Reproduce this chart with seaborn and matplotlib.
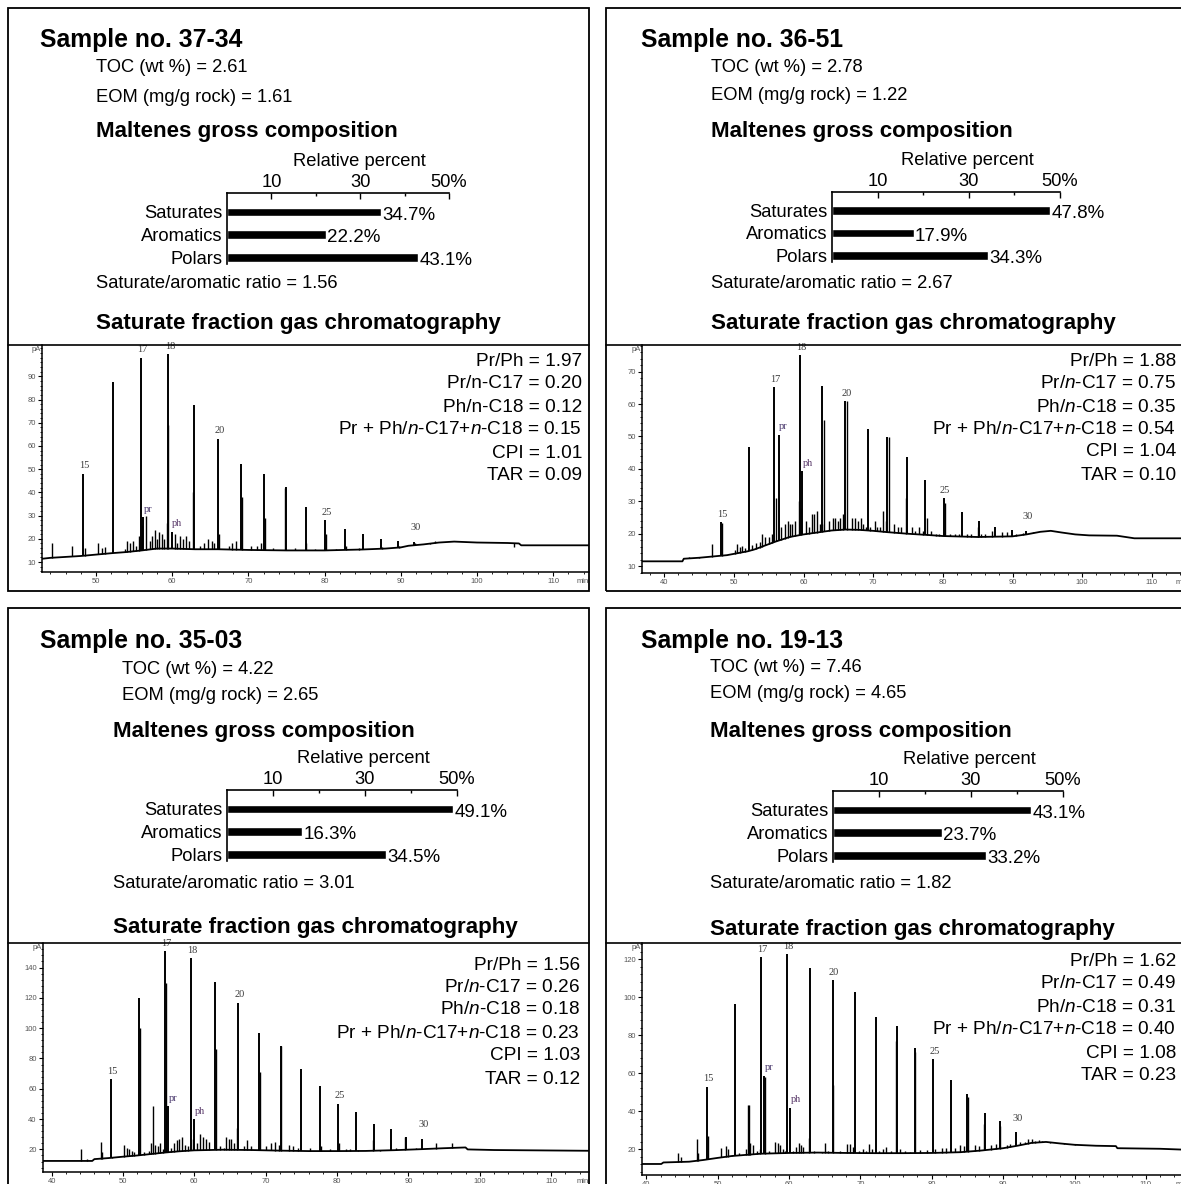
import numpy as np
import pandas as pd
import matplotlib
matplotlib.use("Agg")
import matplotlib.pyplot as plt
import seaborn as sns
from matplotlib.patches import Rectangle
from matplotlib.lines import Line2D
from matplotlib.ticker import MultipleLocator, FixedLocator, FixedFormatter

sns.set_theme(style="white", rc={
    "axes.edgecolor": "black", "text.color": "black",
    "xtick.color": "black", "ytick.color": "black", "axes.labelcolor": "black",
})
plt.rcParams["font.family"] = ["Liberation Sans", "DejaVu Sans"]
plt.rcParams["mathtext.fontset"] = "custom"
plt.rcParams["mathtext.rm"] = "Liberation Sans"
plt.rcParams["mathtext.it"] = "Liberation Sans:italic"

# ---------------------------------------------------------------- data
samples = ["37-34", "36-51", "35-03", "19-13"]
toc = [2.61, 2.78, 4.22, 7.46]
eom = [1.61, 1.22, 2.65, 4.65]

fractions = ["Saturates", "Aromatics", "Polars"]
saturates = [34.7, 47.8, 49.1, 43.1]
aromatics = [22.2, 17.9, 16.3, 23.7]
polars = [43.1, 34.3, 34.5, 33.2]
sat_aro_ratio = [1.56, 2.67, 3.01, 1.82]

pr_ph = [1.97, 1.88, 1.56, 1.62]
pr_c17 = [0.20, 0.75, 0.26, 0.49]
ph_c18 = [0.12, 0.35, 0.18, 0.31]
prph_c17c18 = [0.15, 0.54, 0.23, 0.40]
cpi = [1.01, 1.04, 1.03, 1.08]
tar = [0.09, 0.10, 0.12, 0.23]

# n-alkane peaks C15..C30: retention time (min) and height (pA)
carbon_numbers = list(range(15, 31))
alk_time_3734 = [48.3, 52.2, 55.9, 59.5, 62.9, 66.0, 69.0, 72.0, 74.9, 77.5, 80.1, 82.7, 85.0, 87.4, 89.6, 91.7]
alk_height_3734 = [48.1, 87.7, 98.0, 99.5, 77.6, 63.2, 52.4, 48.1, 42.4, 33.7, 28.0, 24.4, 22.2, 20.1, 18.9, 18.6]
alk_time_3651 = [48.1, 52.1, 55.8, 59.5, 62.7, 66.0, 69.2, 72.0, 74.9, 77.5, 80.1, 82.7, 85.2, 87.5, 89.9, 92.0]
alk_height_3651 = [23.6, 46.6, 65.1, 75.1, 65.6, 60.8, 52.4, 49.7, 43.8, 36.5, 31.0, 26.7, 23.8, 22.0, 21.1, 20.8]
alk_time_3503 = [48.3, 52.3, 55.9, 59.5, 62.9, 66.1, 69.1, 72.1, 74.9, 77.6, 80.2, 82.6, 85.2, 87.6, 89.6, 91.9]
alk_height_3503 = [66.2, 119.6, 150.7, 146.2, 130.7, 116.9, 96.7, 88.4, 73.3, 61.8, 50.2, 44.7, 36.7, 33.6, 28.4, 26.9]
alk_time_1913 = [48.5, 52.5, 56.1, 59.7, 63.0, 66.1, 69.3, 72.2, 75.1, 77.7, 80.2, 82.7, 85.0, 87.4, 89.5, 91.8]
alk_height_1913 = [52.9, 96.6, 120.9, 122.7, 115.6, 109.0, 102.8, 89.6, 84.8, 73.1, 67.4, 56.5, 48.8, 38.8, 34.7, 28.8]

# pristane / phytane peaks: time, height
pr_peak = [(56.2, 29.4), (56.4, 50.5), (56.3, 48.4), (56.5, 58.6)]
ph_peak = [(59.9, 23.0), (59.8, 39.2), (60.0, 40.0), (60.1, 41.8)]

# unresolved baseline / hump of each trace
base_t_3734 = [42.9, 44.0, 46.0, 48.0, 50.0, 52.0, 54.0, 56.0, 58.0, 60.0, 63.0, 66.0, 70.0, 75.0, 80.0, 85.0,
               88.0, 90.0, 91.0, 93.0, 95.0, 97.0, 98.5, 100.0, 104.0, 105.5, 105.8, 114.7]
base_v_3734 = [11.4, 11.8, 12.2, 12.6, 13.2, 13.8, 14.3, 15.0, 15.8, 15.8, 15.5, 15.5, 15.2, 15.0, 15.0, 15.4,
               15.8, 16.3, 17.0, 17.6, 18.4, 18.8, 18.6, 18.4, 18.2, 18.0, 17.2, 17.2]
base_t_3651 = [36.8, 42.6, 42.8, 45.0, 47.0, 49.0, 50.0, 52.0, 53.0, 54.0, 55.0, 56.0, 57.0, 58.0, 60.0, 62.0,
               64.0, 66.0, 68.0, 70.0, 72.0, 75.0, 78.0, 80.0, 85.0, 90.0, 92.0, 94.0, 95.5, 97.0, 99.0, 101.0,
               105.0, 107.5, 110.0, 117.3]
base_v_3651 = [11.5, 11.5, 12.3, 12.6, 13.0, 13.4, 13.8, 14.6, 15.2, 16.0, 16.8, 17.6, 18.3, 19.0, 19.8, 20.4,
               21.0, 21.3, 21.2, 20.9, 20.5, 20.0, 19.6, 19.3, 19.0, 19.2, 19.8, 20.6, 20.9, 20.4, 19.8, 19.5,
               19.4, 18.6, 18.6, 18.6]
base_t_3503 = [38.8, 45.7, 46.0, 48.0, 50.0, 52.0, 54.0, 56.0, 58.0, 60.0, 64.0, 68.0, 72.0, 76.0, 80.0, 84.0,
               88.0, 92.0, 95.0, 98.0, 98.3, 102.0, 115.3]
base_v_3503 = [12.4, 12.4, 13.6, 14.3, 15.2, 16.0, 17.0, 18.0, 18.8, 19.4, 19.8, 19.6, 19.2, 18.9, 18.9, 19.0,
               19.5, 20.2, 20.8, 21.3, 20.0, 19.6, 19.1]
base_t_1913 = [39.4, 42.1, 42.4, 46.0, 48.0, 50.0, 52.0, 54.0, 56.0, 60.0, 64.0, 68.0, 72.0, 76.0, 80.0, 84.0,
               87.0, 90.0, 92.0, 94.0, 96.0, 98.0, 100.0, 103.0, 105.8, 106.0, 112.0, 116.3]
base_v_1913 = [12.2, 12.2, 13.0, 13.4, 14.3, 15.4, 16.4, 17.0, 17.6, 18.0, 18.2, 18.0, 17.9, 17.9, 18.0, 18.4,
               19.3, 20.5, 21.8, 23.3, 23.8, 23.0, 22.3, 21.8, 21.6, 20.5, 20.2, 19.6]

# minor resolved peaks (time, height)
minor_3734 = [(44.2, 18.3), (46.9, 16.9), (48.6, 16.0), (50.3, 18.3), (50.8, 16.0), (51.2, 16.5), (53.8, 15.5),
              (54.0, 19.0), (54.5, 18.0), (54.9, 19.0), (55.2, 17.0), (55.6, 21.0), (56.0, 26.0), (56.6, 30.0),
              (57.1, 19.0), (57.4, 21.0), (57.7, 24.0), (58.0, 20.0), (58.3, 23.0), (58.6, 22.0), (58.9, 20.0),
              (59.3, 27.0), (59.4, 69.0), (60.3, 22.0), (60.6, 18.0), (61.0, 21.0), (61.4, 20.0), (61.8, 21.0),
              (62.2, 19.0), (62.7, 40.0), (63.6, 17.0), (64.2, 18.0), (64.7, 20.0), (65.2, 19.0), (65.5, 18.0),
              (66.1, 22.0), (67.4, 17.0), (67.9, 18.0), (68.3, 19.0), (69.2, 38.0), (70.3, 17.0), (71.1, 17.0),
              (71.6, 18.0), (72.2, 29.0), (73.2, 16.0), (74.8, 42.0), (76.1, 16.0), (77.6, 18.0), (78.8, 15.8),
              (80.2, 22.0), (81.5, 15.8), (82.8, 17.0), (84.5, 16.2), (87.5, 16.5), (89.7, 17.0), (91.8, 18.0),
              (93.8, 18.2), (94.5, 19.0), (98.3, 18.7), (104.8, 16.5)]
minor_3651 = [(43.6, 12.8), (45.0, 12.9), (46.8, 16.9), (48.3, 23.2), (50.2, 15.0), (50.5, 16.8), (50.8, 16.0),
              (51.2, 16.3), (51.6, 15.6), (52.6, 16.5), (53.2, 17.0), (53.7, 17.5), (54.0, 20.0), (54.5, 19.0),
              (55.0, 19.0), (55.4, 20.0), (56.1, 31.0), (56.8, 22.0), (57.3, 23.0), (57.7, 24.0), (58.1, 23.0),
              (58.4, 23.0), (58.8, 24.0), (59.3, 30.0), (59.6, 28.0), (60.4, 24.0), (60.8, 22.0), (61.2, 26.0),
              (61.5, 26.0), (61.9, 27.0), (62.3, 23.0), (62.6, 23.0), (63.0, 55.0), (63.6, 24.0), (64.2, 25.0),
              (64.5, 25.0), (64.9, 24.0), (65.3, 25.0), (65.7, 26.0), (66.2, 61.0), (67.0, 25.0), (67.4, 25.0),
              (67.8, 24.0), (68.2, 25.0), (68.6, 23.0), (69.0, 22.0), (69.6, 22.0), (70.2, 24.0), (70.6, 22.0),
              (71.0, 22.0), (71.4, 27.0), (71.9, 24.0), (72.2, 49.7), (73.0, 23.0), (73.5, 22.0), (74.0, 22.0),
              (74.7, 31.0), (75.5, 22.0), (76.0, 21.0), (76.6, 22.0), (77.2, 21.0), (77.7, 25.0), (78.3, 21.0),
              (79.0, 20.0), (79.5, 20.0), (80.3, 29.5), (81.0, 20.0), (81.8, 20.0), (82.3, 20.0), (83.5, 20.0),
              (84.0, 19.8), (85.0, 22.0), (85.5, 20.0), (86.0, 20.0), (87.0, 21.0), (88.5, 20.5), (89.2, 20.5),
              (90.5, 20.0), (91.5, 20.3), (93.0, 20.5)]
minor_3503 = [(44.1, 20.0), (45.0, 14.0), (46.9, 25.1), (47.0, 18.0), (48.5, 15.0), (50.2, 23.0), (50.6, 21.0),
              (50.9, 20.0), (51.2, 19.0), (51.5, 18.0), (52.4, 100.0), (53.0, 18.0), (53.6, 19.0), (54.2, 48.4),
              (54.0, 24.0), (54.5, 23.0), (54.9, 22.0), (55.2, 24.0), (55.6, 20.0), (56.0, 130.0), (56.8, 21.0),
              (57.2, 24.0), (57.6, 26.0), (57.9, 27.0), (58.3, 28.0), (58.7, 23.0), (59.1, 22.0), (59.8, 27.0),
              (60.4, 24.0), (60.8, 30.0), (61.2, 28.0), (61.6, 27.0), (62.0, 25.0), (63.0, 86.0), (63.6, 22.0),
              (64.1, 21.0), (64.4, 28.0), (64.8, 27.0), (65.2, 27.0), (65.6, 24.0), (66.0, 34.0), (67.0, 22.0),
              (67.4, 26.0), (67.9, 22.0), (69.2, 71.0), (70.1, 22.0), (70.7, 24.0), (71.3, 25.0), (71.8, 23.0),
              (72.2, 88.0), (73.3, 23.0), (73.8, 22.0), (74.5, 21.0), (76.2, 21.0), (77.8, 22.0), (79.0, 20.0),
              (80.3, 24.0), (81.2, 20.0), (81.8, 20.0), (83.0, 19.5), (85.1, 26.0), (86.0, 19.5), (88.2, 21.0),
              (89.5, 28.0), (91.0, 21.0), (93.9, 24.5), (96.1, 24.0)]
minor_1913 = [(42.5, 13.0), (44.5, 17.9), (44.8, 16.0), (47.1, 25.3), (47.3, 18.0), (48.6, 27.0), (50.5, 20.5),
              (51.1, 21.8), (51.4, 20.0), (52.0, 17.0), (53.0, 18.0), (54.0, 20.0), (54.3, 43.0), (54.4, 43.0),
              (54.6, 23.0), (55.0, 22.0), (55.5, 19.0), (56.0, 20.0), (56.6, 58.0), (57.2, 19.0), (58.1, 24.0),
              (58.4, 23.0), (58.7, 22.0), (59.2, 20.0), (59.5, 19.0), (60.5, 19.0), (61.0, 21.0), (61.4, 23.0),
              (61.7, 22.0), (62.0, 21.0), (62.8, 25.8), (63.5, 19.0), (64.0, 18.0), (64.6, 18.5), (65.1, 23.5),
              (65.5, 19.0), (66.2, 54.0), (67.2, 19.0), (68.1, 22.5), (68.5, 22.5), (68.9, 21.0), (69.8, 19.0),
              (70.3, 20.0), (70.8, 19.0), (71.2, 22.5), (71.6, 20.0), (72.6, 19.0), (73.1, 20.0), (73.6, 21.0),
              (74.3, 19.0), (75.0, 77.0), (75.6, 20.0), (76.2, 19.0), (77.0, 18.5), (77.6, 71.0), (78.3, 19.5),
              (79.3, 19.5), (80.4, 20.0), (81.5, 20.5), (82.0, 20.5), (83.2, 20.5), (84.0, 22.0), (84.5, 21.5),
              (85.1, 47.7), (86.0, 22.0), (86.6, 21.5), (87.3, 33.0), (88.3, 22.0), (89.0, 22.5), (89.6, 32.0),
              (90.5, 22.0), (91.0, 22.5), (92.3, 24.0), (93.0, 24.0), (93.5, 25.5), (94.0, 25.2), (94.5, 24.5),
              (95.0, 25.0), (95.5, 24.5), (96.0, 24.0), (96.5, 23.5), (97.5, 23.0), (98.5, 23.0), (100.0, 22.5)]

# y-axis tick values of each chromatogram
y_ticks_3734 = [10, 20, 30, 40, 50, 60, 70, 80, 90]
y_ticks_3651 = [10, 20, 30, 40, 50, 60, 70]
y_ticks_3503 = [20, 40, 60, 80, 100, 120, 140]
y_ticks_1913 = [20, 40, 60, 80, 100, 120]

alk_times = [alk_time_3734, alk_time_3651, alk_time_3503, alk_time_1913]
alk_heights = [alk_height_3734, alk_height_3651, alk_height_3503, alk_height_1913]
base_ts = [base_t_3734, base_t_3651, base_t_3503, base_t_1913]
base_vs = [base_v_3734, base_v_3651, base_v_3503, base_v_1913]
minors = [minor_3734, minor_3651, minor_3503, minor_1913]
y_ticks = [y_ticks_3734, y_ticks_3651, y_ticks_3503, y_ticks_1913]
labelled_carbons = [15, 17, 18, 20, 25, 30]

# ---------------------------------------------------------------- layout (pixels, y from top)
W, H = 1181, 1184
fig = plt.figure(figsize=(W / 100, H / 100), dpi=100)


def fbox(x0, y0, x1, y1):
    return [x0 / W, 1 - y1 / H, (x1 - x0) / W, (y1 - y0) / H]


def ftext(x, y, s, **kw):
    fig.text(x / W, 1 - y / H, s, **kw)


layout = [
    dict(box=(8, 8, 589, 591), title=(40, 40), info_x=96, toc_y=67, eom_y=97, malt=(96, 131),
         bar=(227, 193, 449, 264), ratio=(96, 284), gc=(96, 323), sep=345,
         chrom=(42, 345, 589, 572), xlim=(42.9, 114.7), ylim=(5.7, 103.5), ymin=2,
         stats_x=582, stats_y=[362, 384, 407, 430, 453, 475], italic_n=False),
    dict(box=(606, 8, 1195, 591), title=(641, 40), info_x=711, toc_y=67, eom_y=96, malt=(711, 131),
         bar=(832, 192, 1060, 262), ratio=(711, 284), gc=(711, 323), sep=345,
         chrom=(642, 345, 1188, 573), xlim=(36.8, 115.2), ylim=(7.9, 78.2), ymin=2,
         stats_x=1176, stats_y=[361, 384, 407, 430, 452, 475], italic_n=True),
    dict(box=(8, 608, 589, 1195), title=(40, 641), info_x=122, toc_y=669, eom_y=695, malt=(113, 731),
         bar=(227, 790, 457, 861), ratio=(113, 883), gc=(113, 927), sep=943,
         chrom=(43, 943, 589, 1172), xlim=(38.8, 115.3), ylim=(5.1, 156.2), ymin=4,
         stats_x=580, stats_y=[966, 987, 1010, 1033, 1056, 1079], italic_n=True),
    dict(box=(606, 608, 1195, 1195), title=(641, 641), info_x=710, toc_y=667, eom_y=694, malt=(710, 731),
         bar=(833, 791, 1063, 862), ratio=(710, 883), gc=(710, 929), sep=943,
         chrom=(642, 943, 1188, 1175), xlim=(39.4, 115.9), ylim=(6.4, 128.5), ymin=4,
         stats_x=1176, stats_y=[962, 984, 1007, 1030, 1053, 1076], italic_n=True),
]

REG = 13.2
for i, L in enumerate(layout):
    x0, y0, x1, y1 = L["box"]
    fig.add_artist(Rectangle((x0 / W, 1 - y1 / H), (x1 - x0) / W, (y1 - y0) / H,
                             transform=fig.transFigure, fill=False, ec="black", lw=1.3))
    fig.add_artist(Line2D([x0 / W, min(x1, W + 10) / W], [1 - L["sep"] / H] * 2,
                          transform=fig.transFigure, color="black", lw=1.2))

    # header text
    ftext(*L["title"], f"Sample no. {samples[i]}", fontsize=17.8, fontweight="bold", va="center")
    ftext(L["info_x"], L["toc_y"], f"TOC (wt %) = {toc[i]:.2f}", fontsize=REG, va="center")
    ftext(L["info_x"], L["eom_y"], f"EOM (mg/g rock) = {eom[i]:.2f}", fontsize=REG, va="center")
    ftext(*L["malt"], "Maltenes gross composition", fontsize=16.1, fontweight="bold", va="center")
    ftext(*L["ratio"], f"Saturate/aromatic ratio = {sat_aro_ratio[i]:.2f}", fontsize=REG, va="center")
    ftext(*L["gc"], "Saturate fraction gas chromatography", fontsize=16.1, fontweight="bold", va="center")

    # maltenes bar chart
    bx0, by0, bx1, by1 = L["bar"]
    axb = fig.add_axes(fbox(bx0, by0, bx1, by1))
    df = pd.DataFrame({"fraction": fractions,
                       "percent": [saturates[i], aromatics[i], polars[i]]})
    sns.barplot(data=df, x="percent", y="fraction", orient="h", color="black",
                width=0.38, saturation=1, ax=axb)
    axb.set_xlim(0, 50)
    axb.set_ylim(2.3, -0.83)
    for s in ("bottom", "right"):
        axb.spines[s].set_visible(False)
    for s in ("top", "left"):
        axb.spines[s].set_linewidth(1.2)
        axb.spines[s].set_color("black")
    axb.xaxis.tick_top()
    axb.xaxis.set_major_locator(FixedLocator([10, 30, 50]))
    axb.xaxis.set_major_formatter(FixedFormatter(["10", "30", "50%"]))
    axb.xaxis.set_minor_locator(FixedLocator([20, 40]))
    axb.tick_params(axis="x", which="major", direction="in", length=4, width=1, pad=1.5,
                    labelsize=REG, top=True, bottom=False)
    axb.tick_params(axis="x", which="minor", direction="in", length=2, width=1, top=True, bottom=False)
    axb.tick_params(axis="y", length=0, pad=3, labelsize=REG)
    axb.set_xlabel("")
    axb.set_ylabel("")
    axb.set_facecolor("none")
    for k, v in enumerate(df["percent"]):
        axb.text(v + 0.3, k + 0.14, f"{v:.1f}%", va="center", ha="left", fontsize=13.5)
    axb.annotate("Relative percent", xy=(0.595, 1), xycoords="axes fraction",
                 xytext=(0, 23), textcoords="offset points", ha="center", va="center", fontsize=REG)

    # chromatogram
    cx0, cy0, cx1, cy1 = L["chrom"]
    axc = fig.add_axes(fbox(cx0, cy0, cx1, cy1))
    axc.set_facecolor("none")
    bt, bv = np.array(base_ts[i]), np.array(base_vs[i])
    sns.lineplot(x=bt, y=bv, color="black", lw=1.3, sort=False, ax=axc)
    mt = np.array([m[0] for m in minors[i]])
    mh = np.array([m[1] for m in minors[i]])
    axc.vlines(mt, np.interp(mt, bt, bv), mh, color="black", lw=1.0)
    at, ah = np.array(alk_times[i]), np.array(alk_heights[i])
    axc.vlines(at, np.interp(at, bt, bv), ah, color="black", lw=1.4)
    iso_t = np.array([pr_peak[i][0], ph_peak[i][0]])
    iso_h = np.array([pr_peak[i][1], ph_peak[i][1]])
    axc.vlines(iso_t, np.interp(iso_t, bt, bv), iso_h, color="black", lw=1.4)

    for cn, t, h in zip(carbon_numbers, at, ah):
        if cn in labelled_carbons:
            axc.annotate(str(cn), xy=(t, h), xytext=(1, 7 if cn == 30 else 2.5),
                         textcoords="offset points", ha="center", va="bottom",
                         fontsize=7.5, family="Liberation Serif", color="#3c3c3c")
    axc.annotate("pr", xy=pr_peak[i], xytext=(0.5, 2.5), textcoords="offset points", ha="left",
                 va="bottom", fontsize=7.5, family="Liberation Serif", color="#4b3a6e")
    axc.annotate("ph", xy=ph_peak[i], xytext=(0.5, 2.5), textcoords="offset points", ha="left",
                 va="bottom", fontsize=7.5, family="Liberation Serif", color="#5a3a6a")

    axc.set_xlim(*L["xlim"])
    axc.set_ylim(*L["ylim"])
    for s in ("top", "right"):
        axc.spines[s].set_visible(False)
    for s in ("left", "bottom"):
        axc.spines[s].set_linewidth(1.1)
        axc.spines[s].set_color("black")
    axc.xaxis.set_major_locator(MultipleLocator(10))
    axc.xaxis.set_minor_locator(MultipleLocator(2))
    axc.yaxis.set_major_locator(FixedLocator(y_ticks[i]))
    axc.yaxis.set_minor_locator(MultipleLocator(L["ymin"]))
    axc.tick_params(which="major", direction="out", length=3, width=0.8, labelsize=5.5,
                    labelcolor="#555555", pad=1.5, left=True, bottom=True)
    axc.tick_params(which="minor", direction="out", length=1.5, width=0.6, left=True, bottom=True)
    axc.set_xlabel("")
    axc.set_ylabel("")
    axc.text(-0.002, 0.995, "pA", transform=axc.transAxes, ha="right", va="top",
             fontsize=5.5, color="#555555")
    axc.text(1.0, -0.025, "min", transform=axc.transAxes, ha="right", va="top",
             fontsize=5.5, color="#555555")

    # GC ratios
    if L["italic_n"]:
        names = ["Pr/Ph", r"Pr/$\mathit{n}$-C17", r"Ph/$\mathit{n}$-C18",
                 r"Pr + Ph/$\mathit{n}$-C17+$\mathit{n}$-C18", "CPI", "TAR"]
    else:
        names = ["Pr/Ph", "Pr/n-C17", "Ph/n-C18",
                 r"Pr + Ph/$\mathit{n}$-C17+$\mathit{n}$-C18", "CPI", "TAR"]
    vals = [pr_ph[i], pr_c17[i], ph_c18[i], prph_c17c18[i], cpi[i], tar[i]]
    for name, v, yy in zip(names, vals, L["stats_y"]):
        ftext(L["stats_x"], yy, f"{name} = {v:.2f}", fontsize=13.7, ha="right", va="center")

fig.savefig("out.png", dpi=100, facecolor="white")
